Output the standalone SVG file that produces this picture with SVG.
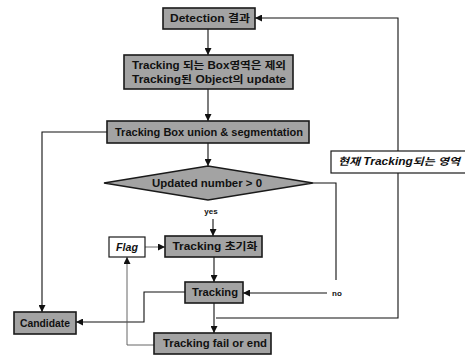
<svg xmlns="http://www.w3.org/2000/svg" width="465" height="358" viewBox="0 0 465 358">
<style>
.g{fill:#a3a3a3;stroke:#1a1a1a;stroke-width:1.6}
.w{fill:#fff;stroke:#1a1a1a;stroke-width:1.2}
.t{font-family:"Liberation Sans","Noto Sans CJK KR",sans-serif;font-weight:bold;font-size:10px;fill:#111;text-anchor:middle}
.i{font-style:italic}
.c path{fill:none;stroke:#111;stroke-width:1.1}
.c .d{stroke:#555;stroke-width:0.9}
</style>
<defs>
<marker id="a" viewBox="0 0 10 10" refX="10" refY="5" markerWidth="7" markerHeight="7" orient="auto" markerUnits="userSpaceOnUse">
<path d="M0,0 L10,5 L0,10 z" fill="#111"/>
</marker>
</defs>
<rect width="465" height="358" fill="#fff"/>
<g class="c">
<path d="M208 29 V55" marker-end="url(#a)"/>
<path d="M208 89 V121" marker-end="url(#a)"/>
<path d="M208 143 V166" marker-end="url(#a)"/>
<path d="M107 132 H42 V312" marker-end="url(#a)"/>
<path d="M213 219 V236" marker-end="url(#a)"/>
<path class="d" d="M145 247 H165" marker-end="url(#a)"/>
<path d="M214 257 V282" marker-end="url(#a)"/>
<path d="M313 183 H336 V280"/>
<path d="M327 293 H243" marker-end="url(#a)"/>
<path d="M185 292 H144 V322 H76" marker-end="url(#a)"/>
<path d="M214 303 V333" marker-end="url(#a)"/>
<path d="M216 318 H398 V173"/>
<path d="M398 151 V18 H255" marker-end="url(#a)"/>
<path class="d" d="M154 345 H127 V257" marker-end="url(#a)"/>
</g>
<g id="detection"><rect class="g" x="163" y="8" width="92" height="21"/><text class="t" x="210" y="22" textLength="80" lengthAdjust="spacingAndGlyphs">Detection 결과</text></g>
<g id="exclude"><rect class="g" x="124" y="55" width="169" height="34"/><text class="t" x="209" y="69" textLength="154" lengthAdjust="spacingAndGlyphs">Tracking 되는 Box영역은 제외</text><text class="t" x="209" y="83" textLength="154" lengthAdjust="spacingAndGlyphs">Tracking된 Object의 update</text></g>
<g id="union"><rect class="g" x="107" y="121" width="202" height="22"/><text class="t" x="209" y="136" textLength="188" lengthAdjust="spacingAndGlyphs">Tracking Box union &amp; segmentation</text></g>
<g id="decision"><polygon class="g" points="104,183 208,166 313,183 208,200"/><text class="t" x="207" y="187" textLength="110" lengthAdjust="spacingAndGlyphs">Updated number &gt; 0</text></g>
<g id="yes"><text class="t" x="211" y="214" style="font-size:8px">yes</text></g>
<g id="flag"><rect class="w" x="109" y="237" width="36" height="20"/><text class="t i" x="127" y="251" textLength="22" lengthAdjust="spacingAndGlyphs">Flag</text></g>
<g id="init"><rect class="g" x="165" y="236" width="97" height="21"/><text class="t" x="215" y="250" textLength="85" lengthAdjust="spacingAndGlyphs">Tracking 초기화</text></g>
<g id="tracking"><rect class="g" x="185" y="282" width="58" height="21"/><text class="t" x="215" y="296" textLength="46" lengthAdjust="spacingAndGlyphs">Tracking</text></g>
<g id="no"><text class="t" x="337" y="296" style="font-size:8px">no</text></g>
<g id="candidate"><rect class="g" x="14" y="312" width="62" height="22"/><text class="t" x="45" y="327" textLength="50" lengthAdjust="spacingAndGlyphs">Candidate</text></g>
<g id="fail"><rect class="g" x="154" y="333" width="117" height="21"/><text class="t" x="215" y="347" textLength="104" lengthAdjust="spacingAndGlyphs">Tracking fail or end</text></g>
<g id="current"><rect class="w" x="331" y="151" width="140" height="22"/><text class="t i" x="399" y="165" textLength="122" lengthAdjust="spacingAndGlyphs">현재 Tracking되는 영역</text></g>
</svg>
